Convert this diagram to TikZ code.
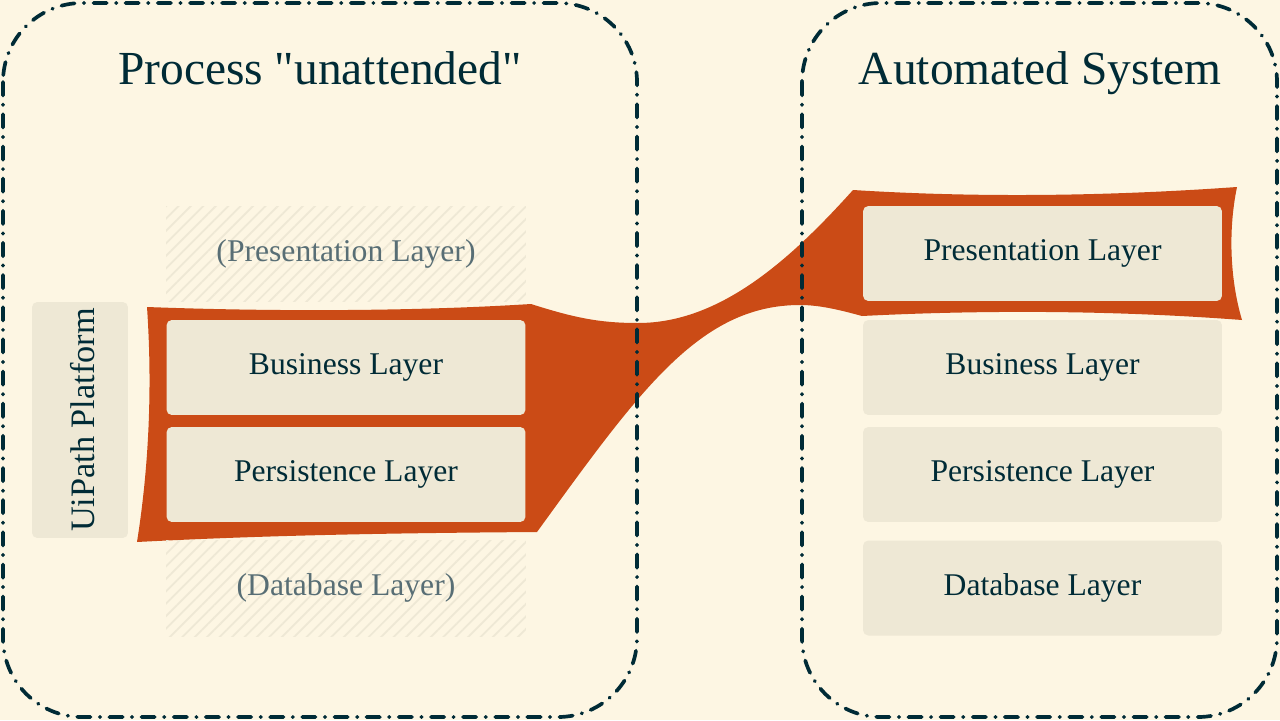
\documentclass[tikz,border=0pt]{standalone}
\usepackage{fontspec}
\setmainfont{Liberation Serif}
\usepackage{tikz}
\usetikzlibrary{positioning, patterns.meta}
\definecolor{cream}{HTML}{FDF6E3}
\definecolor{beige}{HTML}{EEE8D5}
\definecolor{ink}{HTML}{002B36}
\definecolor{inkgray}{HTML}{586E75}
\definecolor{rust}{HTML}{CB4B16}
\tikzstyle{frame}=[draw=ink, line width=2.1pt, line cap=round, rounded corners=45pt, dash pattern=on 7.6pt off 5.2pt on 0.3pt off 5.2pt]
\tikzstyle{layer}=[fill=beige, rounded corners=3pt, minimum width=7.18cm, minimum height=1.9cm, text=ink, font=\fontsize{18}{20}\selectfont]
\tikzstyle{ghost}=[pattern={Lines[angle=45,distance=5pt,line width=1pt]}, pattern color=beige, minimum width=7.2cm, minimum height=1.92cm, text=inkgray, font=\fontsize{18}{20}\selectfont]
\tikzstyle{title}=[anchor=base, text=ink, font=\fontsize{27}{30}\selectfont]

\begin{document}
\begin{tikzpicture}[x=0.02cm, y=-0.02cm]
	\fill[cream] (0,0) rectangle (1280,720);
	\useasboundingbox (0,0) rectangle (1280,720);
	\fill[rust] (147,307) .. controls (280,312) and (420,311) .. (531,304)
		.. controls (575,318) and (600,323) .. (638,323)
		.. controls (720,323) and (790,260) .. (853,190)
		.. controls (980,198) and (1110,196) .. (1237,187)
		.. controls (1228,230) and (1230,280) .. (1242,320)
		.. controls (1110,310) and (980,310) .. (862,316)
		.. controls (840,310) and (820,305) .. (800,305)
		.. controls (700,305) and (640,390) .. (537,532)
		.. controls (400,533) and (270,535) .. (137,542)
		.. controls (150,460) and (152,380) .. (147,307) -- cycle;
	\draw[frame] (3,3) rectangle (637,717);
	\draw[frame] (802,3) rectangle (1277,717);
	\node[title] (lt) at (320,84) {Process \textquotedbl unattended\textquotedbl};
	\node[title] (rt) at (1040,84) {Automated System};
	\node[fill=beige, rounded corners=3pt, minimum width=1.92cm, minimum height=4.72cm] (ui) at (80,420) {};
	\node[rotate=90, text=ink, font=\fontsize{19.5}{22}\selectfont] at ([xshift=0.06cm]ui.center) {UiPath Platform};
	\node[ghost] (lp) at (346,254) {(Presentation Layer)};
	\node[layer] (lb) at (346,367.5) {Business Layer};
	\node[layer] (ls) at (346,474.5) {Persistence Layer};
	\node[ghost] (ld) at (346,588) {(Database Layer)};
	\node[layer] (rp) at (1042.5,253.5) {Presentation Layer};
	\node[layer] (rb) at (1042.5,367.5) {Business Layer};
	\node[layer] (rs) at (1042.5,474.5) {Persistence Layer};
	\node[layer] (rd) at (1042.5,588) {Database Layer};
\end{tikzpicture}
\end{document}
